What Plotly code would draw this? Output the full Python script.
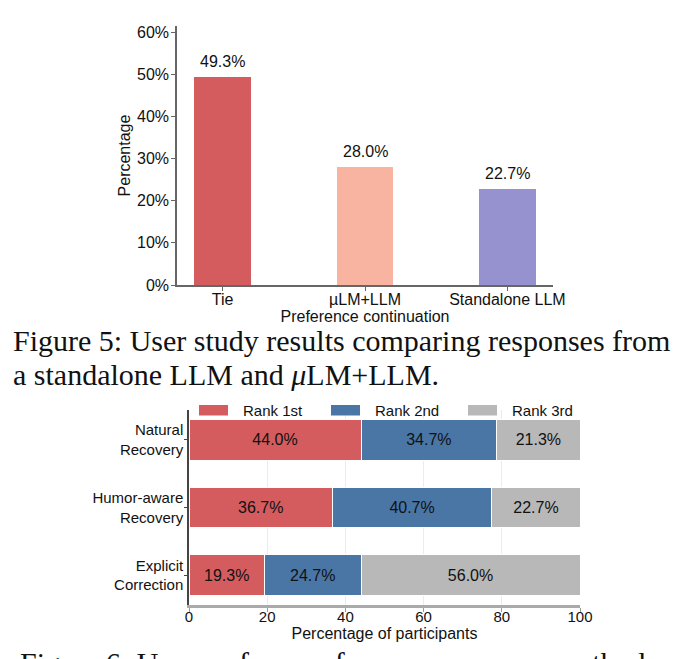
import plotly.graph_objects as go

W, H = 686, 659

# ---- Figure 5 data ----
pref_categories = ["Tie", "µLM+LLM", "Standalone LLM"]
pref_values = [49.3, 28.0, 22.7]
pref_colors = ["#d55c5e", "#f8b4a0", "#9692cf"]
pref_yticks = [0, 10, 20, 30, 40, 50, 60]
pref_yticklabels = ["0%", "10%", "20%", "30%", "40%", "50%", "60%"]

# ---- Figure 6 data ----
methods = ["Natural<br>Recovery", "Humor-aware<br>Recovery", "Explicit<br>Correction"]
rank_names = ["Rank 1st", "Rank 2nd", "Rank 3rd"]
rank1 = [44.0, 36.7, 19.3]
rank2 = [34.7, 40.7, 24.7]
rank3 = [21.3, 22.7, 56.0]
rank_colors = ["#d55c5e", "#4a76a6", "#b8b8b8"]
x6_ticks = [0, 20, 40, 60, 80, 100]

caption5_line1 = "Figure 5: User study results comparing responses from"
caption5_line2 = "a standalone LLM and <i>μ</i>LM+LLM."
caption6 = "Figure 6: User preference for error recovery methods"

SANS = "Liberation Sans, Arial, sans-serif"
SERIF = "Liberation Serif, Times New Roman, serif"


def px(x):
    return x / W


def py(y):
    return 1 - y / H


fig = go.Figure()

fig.add_trace(go.Bar(
    x=pref_categories, y=pref_values, width=0.4,
    marker=dict(color=pref_colors, line=dict(width=0)),
    showlegend=False, xaxis="x", yaxis="y",
))

for name, vals, col in zip(rank_names, [rank1, rank2, rank3], rank_colors):
    fig.add_trace(go.Bar(
        y=methods, x=vals, orientation="h", width=0.6, name=name,
        marker=dict(color=col, line=dict(color="white", width=1)),
        text=[f"{v:.1f}%" for v in vals], textposition="inside",
        insidetextanchor="middle", constraintext="none",
        textfont=dict(family=SANS, size=16, color="#111"),
        showlegend=False, xaxis="x2", yaxis="y2",
    ))

axis_line = dict(showline=True, linecolor="#666", linewidth=1.5, zeroline=False)

fig.update_layout(
    width=W, height=H, margin=dict(l=0, r=0, t=0, b=0, autoexpand=False),
    paper_bgcolor="white", plot_bgcolor="white",
    barmode="stack", showlegend=False,
    font=dict(family=SANS, size=16, color="#111"),
    xaxis=dict(domain=[px(177), px(553)], range=[-0.32, 2.32], anchor="y",
               automargin=False,
               ticks="outside", ticklen=4, tickcolor="#666", showgrid=False,
               tickfont=dict(size=16), ticklabelstandoff=-5,
               title=dict(text="Preference continuation", font=dict(size=16), standoff=0),
               **axis_line),
    yaxis=dict(domain=[py(285), py(26)], range=[0, 61.5], anchor="x",
               automargin=False,
               tickmode="array", tickvals=pref_yticks, ticktext=pref_yticklabels,
               ticks="outside", ticklen=4, ticklabelstandoff=-1,
               tickcolor="#666", showgrid=False, tickfont=dict(size=16),
               title=dict(text="Percentage", font=dict(size=16), standoff=2),
               **axis_line),
    xaxis2=dict(domain=[px(189), px(580)], range=[0, 100], anchor="y2",
                automargin=False,
                tickvals=x6_ticks, ticks="outside", ticklen=4, tickcolor="#999",
                showgrid=True, gridcolor="#ececec", gridwidth=1,
                showline=True, linecolor="#aaa", linewidth=2.5, zeroline=False,
                tickfont=dict(size=15), ticklabelstandoff=-8,
                title=dict(text="Percentage of participants", font=dict(size=16), standoff=0)),
    yaxis2=dict(domain=[py(605), py(410)], range=[2.44, -0.44], anchor="x2",
                automargin=False,
                type="category", categoryorder="array", categoryarray=methods,
                ticks="outside", ticklen=3, tickcolor="#444", showgrid=False,
                showline=True, linecolor="#444", linewidth=1.5, zeroline=False,
                tickfont=dict(size=15), ticklabelstandoff=-2),
)

annotations = []
for cat, v in zip(pref_categories, pref_values):
    annotations.append(dict(text=f"{v:.1f}%", x=cat, y=v, xref="x", yref="y",
                            xanchor="center", yanchor="bottom", yshift=5,
                            showarrow=False,
                            font=dict(family=SANS, size=16, color="#111")))

annotations += [
    dict(text=caption5_line1, x=px(11), y=py(340), xref="paper", yref="paper",
         xanchor="left", yanchor="middle", showarrow=False,
         font=dict(family=SERIF, size=30, color="#111")),
    dict(text=caption5_line2, x=px(11), y=py(374), xref="paper", yref="paper",
         xanchor="left", yanchor="middle", showarrow=False,
         font=dict(family=SERIF, size=30, color="#111")),
    dict(text=caption6, x=px(18), y=py(662), xref="paper", yref="paper",
         xanchor="left", yanchor="middle", showarrow=False,
         font=dict(family=SERIF, size=30, color="#111")),
]

shapes = []
sw_left = [199, 331, 468]
txt_left = [241, 373, 510]
for name, col, sx, tx in zip(rank_names, rank_colors, sw_left, txt_left):
    shapes.append(dict(type="rect", xref="paper", yref="paper",
                       x0=px(sx), x1=px(sx + 29), y0=py(415.5), y1=py(405),
                       fillcolor=col, line=dict(width=0)))
    annotations.append(dict(text=name, x=px(tx), y=py(410), xref="paper", yref="paper",
                            xanchor="left", yanchor="middle", showarrow=False,
                            font=dict(family=SANS, size=15, color="#111")))

fig.update_layout(annotations=annotations, shapes=shapes)

fig.write_html("out.html")
